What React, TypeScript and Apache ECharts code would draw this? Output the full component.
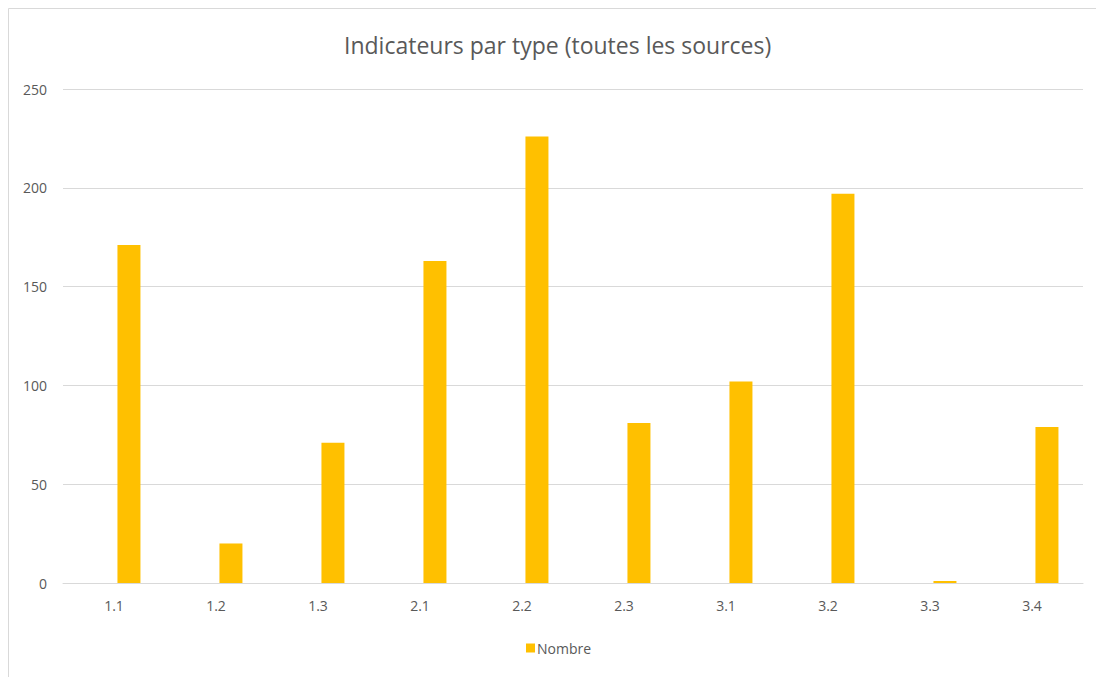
import React, { useEffect, useRef } from "react";
import * as echarts from "echarts";

const categories = ["1.1", "1.2", "1.3", "2.1", "2.2", "2.3", "3.1", "3.2", "3.3", "3.4"];
const nombre = [171, 20, 71, 163, 226, 81, 102, 197, 1, 79];
const emptySeries = categories.map(() => null);
const yTicks = { min: 0, max: 250, interval: 50 };
const title = "Indicateurs par type (toutes les sources)";

export default function App() {
  const ref = useRef<HTMLDivElement>(null);
  useEffect(() => {
    document.body.style.margin = "0";
    document.body.style.overflow = "hidden";
    const chart = echarts.init(ref.current!, null, { renderer: "svg" });
    const font = "'Open Sans', 'Noto Sans', sans-serif";
    chart.setOption({
      animation: false,
      backgroundColor: "#ffffff",
      textStyle: { fontFamily: font },
      title: {
        text: title,
        left: 339,
        top: 28,
        textStyle: { fontFamily: font, fontSize: 23, fontWeight: "normal", color: "#595959" },
      },
      graphic: [
        {
          type: "rect",
          shape: { x: 8.5, y: 8.5, width: 1200, height: 800 },
          style: { fill: "none", stroke: "#d9d9d9", lineWidth: 1 },
          silent: true,
        },
      ],
      legend: {
        data: ["Nombre"],
        left: 521,
        top: 636,
        icon: "rect",
        itemWidth: 9,
        itemHeight: 9,
        itemGap: 10,
        textStyle: { fontFamily: font, fontSize: 14, color: "#595959", padding: [0, 0, 0, -3] },
      },
      grid: { left: 63, right: 13, top: 89, bottom: 94, containLabel: false },
      xAxis: {
        type: "category",
        data: categories,
        axisLine: { lineStyle: { color: "#d9d9d9", width: 1 } },
        axisTick: { show: false },
        axisLabel: { color: "#595959", fontSize: 14, margin: 15, fontFamily: font },
      },
      yAxis: {
        type: "value",
        min: yTicks.min,
        max: yTicks.max,
        interval: yTicks.interval,
        axisLine: { show: false },
        axisTick: { show: false },
        splitLine: { lineStyle: { color: "#d9d9d9", width: 1 } },
        axisLabel: { color: "#595959", fontSize: 14, margin: 16, fontFamily: font },
      },
      series: [
        {
          name: "hidden",
          type: "bar",
          data: emptySeries,
          barWidth: 23,
          barGap: "30%",
          itemStyle: { color: "transparent" },
        },
        {
          name: "Nombre",
          type: "bar",
          data: nombre,
          barWidth: 23,
          barGap: "30%",
          itemStyle: { color: "#FFC000" },
        },
      ],
    });
    return () => chart.dispose();
  }, []);
  return <div ref={ref} style={{ width: 1096, height: 677 }} />;
}
